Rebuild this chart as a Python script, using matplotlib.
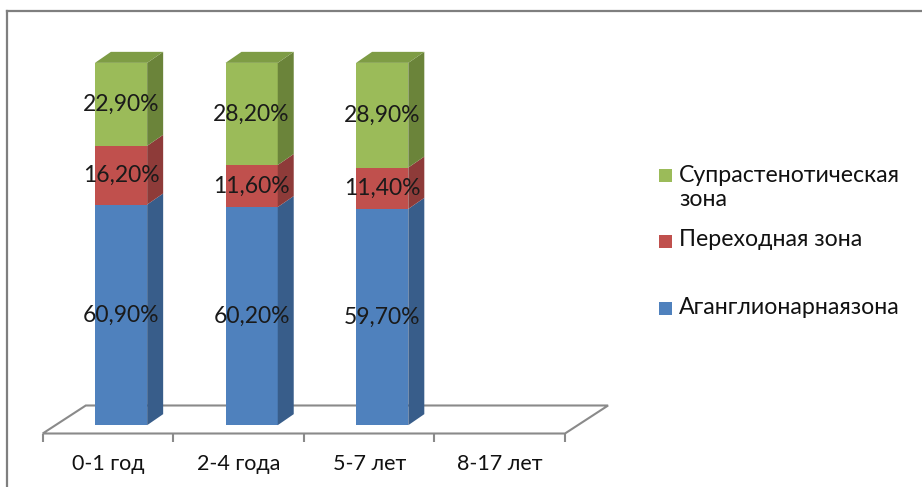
import matplotlib
matplotlib.use("Agg")
import matplotlib.pyplot as plt
from matplotlib.patches import Polygon, Rectangle
from matplotlib.lines import Line2D

# ---- data -------------------------------------------------------------
categories = ["0-1 год", "2-4 года", "5-7 лет", "8-17 лет"]
series_names = ["Аганглионарнаязона", "Переходная зона", "Супрастенотическая\nзона"]
aganglionic = [60.9, 60.2, 59.7]
transition = [16.2, 11.6, 11.4]
suprastenotic = [22.9, 28.2, 28.9]
series_values = [aganglionic, transition, suprastenotic]

# front / side / top face colours for each series
face_colors = [
    ("#4F81BD", "#385D8A", "#6F95C8"),
    ("#C0504D", "#8E3B39", "#CD6E6B"),
    ("#9BBB59", "#6B843A", "#7E9C45"),
]

plt.rcParams["font.family"] = ["Lato", "Open Sans", "DejaVu Sans"]

W, H, DPI = 922, 487, 100
fig = plt.figure(figsize=(W / DPI, H / DPI), dpi=DPI)

# axes: x in category slots, y in percent (front plane of the floor)
ax_left, ax_right = 42.7, 565.0
ax_bottom, ax_top = 433.5, 71.2
ax = fig.add_axes([ax_left / W, 1 - ax_bottom / H,
                   (ax_right - ax_left) / W, (ax_bottom - ax_top) / H])
ax.set_xlim(-0.5, len(categories) - 0.5)
ax.set_ylim(0, 100)
for sp in ax.spines.values():
    sp.set_visible(False)
ax.set_yticks([])

# pseudo-3D geometry in data units
floor_dx, floor_dy = 0.33, 7.73      # depth of the floor
front_dx, front_dy = 0.10, 2.3       # how far the bar front sits behind the floor edge
bar_dx, bar_dy = 0.1225, 3.04        # bar depth
bar_w = 0.40

grid_col = "#8A8A8A"
x0f, x1f = -0.5, len(categories) - 0.5
floor = Polygon([(x0f, 0), (x1f, 0), (x1f + floor_dx, floor_dy), (x0f + floor_dx, floor_dy)],
                closed=True, facecolor="white", edgecolor=grid_col, lw=1.5,
                zorder=1, clip_on=False)
ax.add_patch(floor)

# stacked 3D bars
for i in range(len(series_values[0])):
    bottom = 0.0
    n = len(series_values)
    for s, vals in enumerate(series_values):
        v = vals[i]
        front, side, top = face_colors[s]
        x0 = i - bar_w / 2 + front_dx
        y0 = bottom + front_dy
        ax.add_patch(Rectangle((x0, y0), bar_w, v, facecolor=front, edgecolor="none",
                               zorder=3, clip_on=False))
        ax.add_patch(Polygon([(x0 + bar_w, y0), (x0 + bar_w + bar_dx, y0 + bar_dy),
                              (x0 + bar_w + bar_dx, y0 + v + bar_dy), (x0 + bar_w, y0 + v)],
                             closed=True, facecolor=side, edgecolor="none",
                             zorder=3, clip_on=False))
        if s == n - 1:
            ax.add_patch(Polygon([(x0, y0 + v), (x0 + bar_dx, y0 + v + bar_dy),
                                  (x0 + bar_w + bar_dx, y0 + v + bar_dy), (x0 + bar_w, y0 + v)],
                                 closed=True, facecolor=top, edgecolor="none",
                                 zorder=3, clip_on=False))
        label = f"{v:.2f}".replace(".", ",") + "%"
        ax.text(x0 + bar_w / 2, y0 + v / 2, label, ha="center", va="center",
                fontsize=16.5, color="#1A1A1A", zorder=5)
        bottom += v

# category axis: labels at slot centres, tick marks at slot borders
ax.set_xticks(range(len(categories)))
ax.set_xticklabels(categories, fontsize=15.5, color="#111111")
ax.set_xticks([k - 0.5 for k in range(len(categories) + 1)], minor=True)
ax.tick_params(axis="x", which="major", length=0, pad=15)
ax.tick_params(axis="x", which="minor", length=5.5, width=1.5, color=grid_col, direction="out")

# legend (series listed top to bottom: last stacked first)
legend_rows = [(2, 175, 187.5), (1, 241, 240), (0, 308, 307)]
for s, ysq, ytxt in legend_rows:
    fig.add_artist(Rectangle((659 / W, 1 - (ysq + 6.5) / H), 13 / W, 13 / H,
                             transform=fig.transFigure, facecolor=face_colors[s][0],
                             edgecolor="none"))
    fig.text(679 / W, 1 - ytxt / H, series_names[s], ha="left", va="center",
             fontsize=16.7, color="#111111", linespacing=1.2)

# outer frame (top and left edges)
fc = "#7F7F7F"
fig.add_artist(Line2D([7 / W, 7 / W], [0, 1 - 11 / H], transform=fig.transFigure,
                      color=fc, lw=1.6))
fig.add_artist(Line2D([7 / W, 1], [1 - 11 / H, 1 - 11 / H], transform=fig.transFigure,
                      color=fc, lw=1.6))

fig.savefig("out.png", dpi=DPI, facecolor="white")
